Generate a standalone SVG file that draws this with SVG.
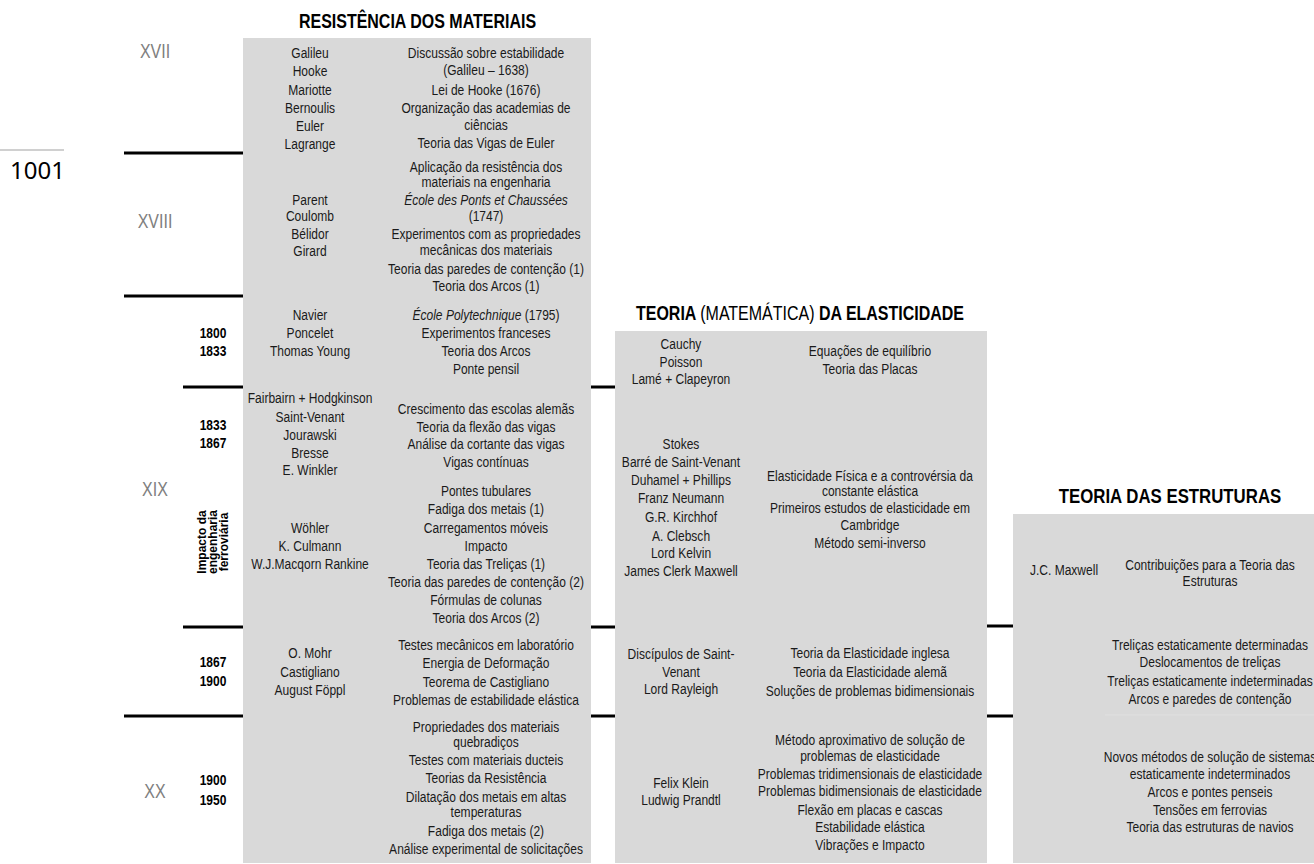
<svg xmlns="http://www.w3.org/2000/svg" width="1314" height="864" viewBox="0 0 1314 864">
<style>
.t{font-family:"Liberation Sans",Arial,sans-serif;font-size:14.67px;fill:#1a1a1a;text-anchor:middle}
.b{font-weight:bold;fill:#000}
.h{font-size:19.5px;font-weight:bold;fill:#000}
.rn{font-size:19.5px;fill:#808080}
.i{font-style:italic}
.n{font-weight:normal}
.panel{fill:#d9d9d9}
.sep{stroke:#000;stroke-width:3;fill:none}
</style>
<rect width="1314" height="864" fill="#fff"/>

<g id="page-number">
<line x1="0" y1="150" x2="64" y2="150" stroke="#d0d0d0" stroke-width="2"/>
<text x="10" y="179" style="font-family:'Noto Sans','Open Sans',sans-serif;font-size:24px;fill:#000">1001</text>
</g>

<g id="centuries">
<g transform="matrix(0.82 0 0 1 155 0)">
<text class="t rn" x="0" y="58">XVII</text>
<text class="t rn" x="0" y="228">XVIII</text>
<text class="t rn" x="0" y="496">XIX</text>
<text class="t rn" x="0" y="798">XX</text>
</g>
</g>

<g id="years">
<g transform="matrix(0.82 0 0 1 213 0)">
<text class="t b" x="0" y="338">1800</text>
<text class="t b" x="0" y="356">1833</text>
<text class="t b" x="0" y="430">1833</text>
<text class="t b" x="0" y="448">1867</text>
<text class="t b" x="0" y="667">1867</text>
<text class="t b" x="0" y="686">1900</text>
<text class="t b" x="0" y="785">1900</text>
<text class="t b" x="0" y="805">1950</text>
</g>
</g>

<g id="railway-label">
<g transform="translate(0 542) rotate(-90)">
<text class="t b" x="0" y="206" style="font-size:12px">Impacto da</text>
<text class="t b" x="0" y="217" style="font-size:12px">engenharia</text>
<text class="t b" x="0" y="228" style="font-size:12px">ferroviária</text>
</g>
</g>

<g id="connectors">
<line class="sep" x1="124" y1="153" x2="243" y2="153"/>
<line class="sep" x1="124" y1="296" x2="243" y2="296"/>
<line class="sep" x1="183" y1="387" x2="243" y2="387"/>
<line class="sep" x1="591" y1="387" x2="615" y2="387"/>
<line class="sep" x1="183" y1="627" x2="243" y2="627"/>
<line class="sep" x1="591" y1="627" x2="615" y2="627"/>
<line class="sep" x1="987" y1="626" x2="1013" y2="626"/>
<line class="sep" x1="124" y1="716" x2="243" y2="716"/>
<line class="sep" x1="591" y1="716" x2="615" y2="716"/>
<line class="sep" x1="987" y1="716" x2="1013" y2="716"/>
</g>

<g id="resistencia-dos-materiais">
<rect class="panel" x="243" y="38" width="348" height="825"/>
<g transform="matrix(0.82 0 0 1 417.5 0)"><text class="t h" x="0" y="28">RESISTÊNCIA DOS MATERIAIS</text></g>
<g id="rm-names" transform="matrix(0.82 0 0 1 310 0)">
<text class="t" x="0" y="58">Galileu</text>
<text class="t" x="0" y="76">Hooke</text>
<text class="t" x="0" y="95">Mariotte</text>
<text class="t" x="0" y="113">Bernoulis</text>
<text class="t" x="0" y="131">Euler</text>
<text class="t" x="0" y="149">Lagrange</text>
<text class="t" x="0" y="205">Parent</text>
<text class="t" x="0" y="221">Coulomb</text>
<text class="t" x="0" y="239">Bélidor</text>
<text class="t" x="0" y="256">Girard</text>
<text class="t" x="0" y="320">Navier</text>
<text class="t" x="0" y="338">Poncelet</text>
<text class="t" x="0" y="356">Thomas Young</text>
<text class="t" x="0" y="403">Fairbairn + Hodgkinson</text>
<text class="t" x="0" y="422">Saint-Venant</text>
<text class="t" x="0" y="440">Jourawski</text>
<text class="t" x="0" y="458">Bresse</text>
<text class="t" x="0" y="475">E. Winkler</text>
<text class="t" x="0" y="533">Wöhler</text>
<text class="t" x="0" y="551">K. Culmann</text>
<text class="t" x="0" y="569">W.J.Macqorn Rankine</text>
<text class="t" x="0" y="658">O. Mohr</text>
<text class="t" x="0" y="677">Castigliano</text>
<text class="t" x="0" y="695">August Föppl</text>
</g>
<g id="rm-topics" transform="matrix(0.82 0 0 1 486 0)">
<text class="t" x="0" y="58">Discussão sobre estabilidade</text>
<text class="t" x="0" y="75">(Galileu – 1638)</text>
<text class="t" x="0" y="95">Lei de Hooke (1676)</text>
<text class="t" x="0" y="113">Organização das academias de</text>
<text class="t" x="0" y="130">ciências</text>
<text class="t" x="0" y="148">Teoria das Vigas de Euler</text>
<text class="t" x="0" y="172">Aplicação da resistência dos</text>
<text class="t" x="0" y="187">materiais na engenharia</text>
<text class="t i" x="0" y="205">École des Ponts et Chaussées</text>
<text class="t" x="0" y="221">(1747)</text>
<text class="t" x="0" y="239">Experimentos com as propriedades</text>
<text class="t" x="0" y="255">mecânicas dos materiais</text>
<text class="t" x="0" y="274">Teoria das paredes de contenção (1)</text>
<text class="t" x="0" y="291">Teoria dos Arcos (1)</text>
<text class="t" x="0" y="320"><tspan class="i">École Polytechnique</tspan> (1795)</text>
<text class="t" x="0" y="338">Experimentos franceses</text>
<text class="t" x="0" y="356">Teoria dos Arcos</text>
<text class="t" x="0" y="374">Ponte pensil</text>
<text class="t" x="0" y="414">Crescimento das escolas alemãs</text>
<text class="t" x="0" y="432">Teoria da flexão das vigas</text>
<text class="t" x="0" y="449">Análise da cortante das vigas</text>
<text class="t" x="0" y="467">Vigas contínuas</text>
<text class="t" x="0" y="496">Pontes tubulares</text>
<text class="t" x="0" y="514">Fadiga dos metais (1)</text>
<text class="t" x="0" y="533">Carregamentos móveis</text>
<text class="t" x="0" y="551">Impacto</text>
<text class="t" x="0" y="569">Teoria das Treliças (1)</text>
<text class="t" x="0" y="587">Teoria das paredes de contenção (2)</text>
<text class="t" x="0" y="605">Fórmulas de colunas</text>
<text class="t" x="0" y="623">Teoria dos Arcos (2)</text>
<text class="t" x="0" y="650">Testes mecânicos em laboratório</text>
<text class="t" x="0" y="668">Energia de Deformação</text>
<text class="t" x="0" y="687">Teorema de Castigliano</text>
<text class="t" x="0" y="705">Problemas de estabilidade elástica</text>
<text class="t" x="0" y="732">Propriedades dos materiais</text>
<text class="t" x="0" y="747">quebradiços</text>
<text class="t" x="0" y="765">Testes com materiais ducteis</text>
<text class="t" x="0" y="783">Teorias da Resistência</text>
<text class="t" x="0" y="802">Dilatação dos metais em altas</text>
<text class="t" x="0" y="817">temperaturas</text>
<text class="t" x="0" y="836">Fadiga dos metais (2)</text>
<text class="t" x="0" y="854">Análise experimental de solicitações</text>
</g>
</g>

<g id="teoria-da-elasticidade">
<rect class="panel" x="615" y="331" width="372" height="532"/>
<g transform="matrix(0.82 0 0 1 800 0)"><text class="t h" x="0" y="320">TEORIA <tspan class="n">(MATEMÁTICA)</tspan> DA ELASTICIDADE</text></g>
<g id="te-names" transform="matrix(0.82 0 0 1 681 0)">
<text class="t" x="0" y="349">Cauchy</text>
<text class="t" x="0" y="367">Poisson</text>
<text class="t" x="0" y="384">Lamé + Clapeyron</text>
<text class="t" x="0" y="449">Stokes</text>
<text class="t" x="0" y="467">Barré de Saint-Venant</text>
<text class="t" x="0" y="485">Duhamel + Phillips</text>
<text class="t" x="0" y="503">Franz Neumann</text>
<text class="t" x="0" y="522">G.R. Kirchhof</text>
<text class="t" x="0" y="541">A. Clebsch</text>
<text class="t" x="0" y="558">Lord Kelvin</text>
<text class="t" x="0" y="576">James Clerk Maxwell</text>
<text class="t" x="0" y="659">Discípulos de Saint-</text>
<text class="t" x="0" y="677">Venant</text>
<text class="t" x="0" y="694">Lord Rayleigh</text>
<text class="t" x="0" y="788">Felix Klein</text>
<text class="t" x="0" y="805">Ludwig Prandtl</text>
</g>
<g id="te-topics" transform="matrix(0.82 0 0 1 870 0)">
<text class="t" x="0" y="356">Equações de equilíbrio</text>
<text class="t" x="0" y="374">Teoria das Placas</text>
<text class="t" x="0" y="481">Elasticidade Física e a controvérsia da</text>
<text class="t" x="0" y="496">constante elástica</text>
<text class="t" x="0" y="513">Primeiros estudos de elasticidade em</text>
<text class="t" x="0" y="530">Cambridge</text>
<text class="t" x="0" y="548">Método semi-inverso</text>
<text class="t" x="0" y="658">Teoria da Elasticidade inglesa</text>
<text class="t" x="0" y="677">Teoria da Elasticidade alemã</text>
<text class="t" x="0" y="696">Soluções de problemas bidimensionais</text>
<text class="t" x="0" y="745">Método aproximativo de solução de</text>
<text class="t" x="0" y="761">problemas de elasticidade</text>
<text class="t" x="0" y="779">Problemas tridimensionais de elasticidade</text>
<text class="t" x="0" y="796">Problemas bidimensionais de elasticidade</text>
<text class="t" x="0" y="815">Flexão em placas e cascas</text>
<text class="t" x="0" y="832">Estabilidade elástica</text>
<text class="t" x="0" y="850">Vibrações e Impacto</text>
</g>
</g>

<g id="teoria-das-estruturas">
<rect class="panel" x="1013" y="514" width="301" height="349"/>
<line x1="1105" y1="715" x2="1314" y2="715" stroke="#e0e0e0" stroke-width="1"/>
<g transform="matrix(0.82 0 0 1 1170 0)"><text class="t h" x="0" y="503" style="font-size:20.5px">TEORIA DAS ESTRUTURAS</text></g>
<g id="ts-names" transform="matrix(0.82 0 0 1 1064 0)">
<text class="t" x="0" y="575">J.C. Maxwell</text>
</g>
<g id="ts-topics" transform="matrix(0.82 0 0 1 1210 0)">
<text class="t" x="0" y="570">Contribuições para a Teoria das</text>
<text class="t" x="0" y="586">Estruturas</text>
<text class="t" x="0" y="650">Treliças estaticamente determinadas</text>
<text class="t" x="0" y="667">Deslocamentos de treliças</text>
<text class="t" x="0" y="686">Treliças estaticamente indeterminadas</text>
<text class="t" x="0" y="704">Arcos e paredes de contenção</text>
<text class="t" x="0" y="762">Novos métodos de solução de sistemas</text>
<text class="t" x="0" y="779">estaticamente indeterminados</text>
<text class="t" x="0" y="797">Arcos e pontes penseis</text>
<text class="t" x="0" y="815">Tensões em ferrovias</text>
<text class="t" x="0" y="832">Teoria das estruturas de navios</text>
</g>
</g>
</svg>
